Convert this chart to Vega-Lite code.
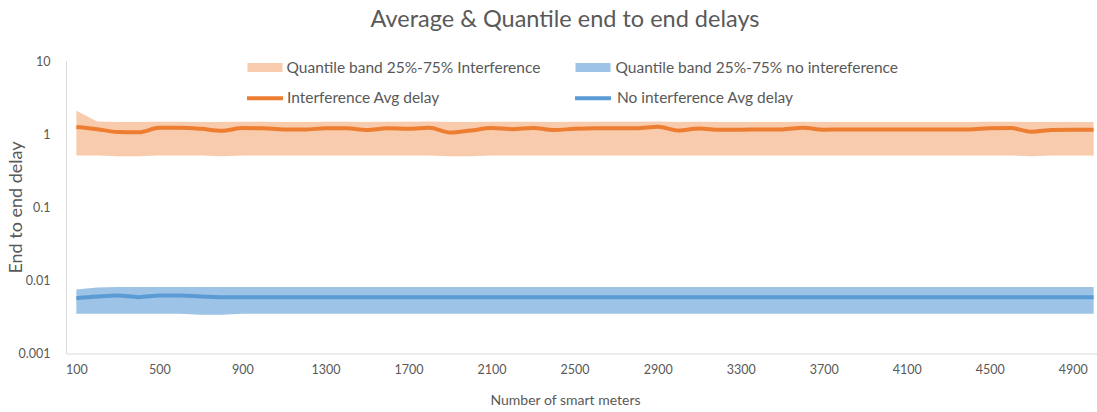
{
  "$schema": "https://vega.github.io/schema/vega-lite/v6.json",
  "width": 1038,
  "height": 292.5,
  "autosize": {"type": "none"},
  "padding": {"left": 66, "top": 61, "right": 0, "bottom": 58},
  "background": "white",
  "title": {
    "text": "Average & Quantile end to end delays",
    "anchor": "middle",
    "dx": -20,
    "dy": 23,
    "offset": 23,
    "baseline": "alphabetic",
    "font": "Lato",
    "fontSize": 23.5,
    "fontWeight": "normal",
    "color": "#595959"
  },
  "data": {
    "values": [
      {"n": 100, "ia": 1.25, "il": 0.51, "ih": 2.08, "na": 0.0057, "nl": 0.0035, "nh": 0.0075},
      {"n": 200, "ia": 1.17, "il": 0.51, "ih": 1.49, "na": 0.0060, "nl": 0.0035, "nh": 0.0080},
      {"n": 300, "ia": 1.07, "il": 0.50, "ih": 1.47, "na": 0.0062, "nl": 0.0035, "nh": 0.0081},
      {"n": 400, "ia": 1.06, "il": 0.50, "ih": 1.46, "na": 0.0059, "nl": 0.0035, "nh": 0.0081},
      {"n": 500, "ia": 1.22, "il": 0.51, "ih": 1.48, "na": 0.0062, "nl": 0.0035, "nh": 0.0081},
      {"n": 600, "ia": 1.22, "il": 0.51, "ih": 1.48, "na": 0.0062, "nl": 0.0035, "nh": 0.0081},
      {"n": 700, "ia": 1.18, "il": 0.51, "ih": 1.47, "na": 0.0060, "nl": 0.0034, "nh": 0.0081},
      {"n": 800, "ia": 1.11, "il": 0.50, "ih": 1.46, "na": 0.0059, "nl": 0.0034, "nh": 0.0081},
      {"n": 900, "ia": 1.21, "il": 0.51, "ih": 1.48, "na": 0.0059, "nl": 0.0035, "nh": 0.0081},
      {"n": 1000, "ia": 1.20, "il": 0.51, "ih": 1.48, "na": 0.0059, "nl": 0.0035, "nh": 0.0081},
      {"n": 1100, "ia": 1.16, "il": 0.51, "ih": 1.47, "na": 0.0059, "nl": 0.0035, "nh": 0.0081},
      {"n": 1200, "ia": 1.16, "il": 0.51, "ih": 1.47, "na": 0.0059, "nl": 0.0035, "nh": 0.0081},
      {"n": 1300, "ia": 1.20, "il": 0.51, "ih": 1.48, "na": 0.0059, "nl": 0.0035, "nh": 0.0081},
      {"n": 1400, "ia": 1.20, "il": 0.51, "ih": 1.48, "na": 0.0059, "nl": 0.0035, "nh": 0.0081},
      {"n": 1500, "ia": 1.14, "il": 0.51, "ih": 1.47, "na": 0.0059, "nl": 0.0035, "nh": 0.0081},
      {"n": 1600, "ia": 1.20, "il": 0.51, "ih": 1.48, "na": 0.0059, "nl": 0.0035, "nh": 0.0081},
      {"n": 1700, "ia": 1.18, "il": 0.51, "ih": 1.48, "na": 0.0059, "nl": 0.0035, "nh": 0.0081},
      {"n": 1800, "ia": 1.22, "il": 0.51, "ih": 1.49, "na": 0.0059, "nl": 0.0035, "nh": 0.0081},
      {"n": 1900, "ia": 1.05, "il": 0.50, "ih": 1.46, "na": 0.0059, "nl": 0.0035, "nh": 0.0081},
      {"n": 2000, "ia": 1.12, "il": 0.50, "ih": 1.47, "na": 0.0059, "nl": 0.0035, "nh": 0.0081},
      {"n": 2100, "ia": 1.21, "il": 0.51, "ih": 1.48, "na": 0.0059, "nl": 0.0035, "nh": 0.0081},
      {"n": 2200, "ia": 1.17, "il": 0.51, "ih": 1.48, "na": 0.0059, "nl": 0.0035, "nh": 0.0081},
      {"n": 2300, "ia": 1.21, "il": 0.51, "ih": 1.48, "na": 0.0059, "nl": 0.0035, "nh": 0.0081},
      {"n": 2400, "ia": 1.14, "il": 0.51, "ih": 1.47, "na": 0.0059, "nl": 0.0035, "nh": 0.0081},
      {"n": 2500, "ia": 1.18, "il": 0.51, "ih": 1.48, "na": 0.0059, "nl": 0.0035, "nh": 0.0081},
      {"n": 2600, "ia": 1.20, "il": 0.51, "ih": 1.48, "na": 0.0059, "nl": 0.0035, "nh": 0.0081},
      {"n": 2700, "ia": 1.20, "il": 0.51, "ih": 1.48, "na": 0.0059, "nl": 0.0035, "nh": 0.0081},
      {"n": 2800, "ia": 1.20, "il": 0.51, "ih": 1.48, "na": 0.0059, "nl": 0.0035, "nh": 0.0081},
      {"n": 2900, "ia": 1.26, "il": 0.51, "ih": 1.49, "na": 0.0059, "nl": 0.0035, "nh": 0.0081},
      {"n": 3000, "ia": 1.12, "il": 0.51, "ih": 1.47, "na": 0.0059, "nl": 0.0035, "nh": 0.0081},
      {"n": 3100, "ia": 1.19, "il": 0.51, "ih": 1.48, "na": 0.0059, "nl": 0.0035, "nh": 0.0081},
      {"n": 3200, "ia": 1.15, "il": 0.51, "ih": 1.47, "na": 0.0059, "nl": 0.0035, "nh": 0.0081},
      {"n": 3300, "ia": 1.15, "il": 0.51, "ih": 1.47, "na": 0.0059, "nl": 0.0035, "nh": 0.0081},
      {"n": 3400, "ia": 1.16, "il": 0.51, "ih": 1.47, "na": 0.0059, "nl": 0.0035, "nh": 0.0081},
      {"n": 3500, "ia": 1.16, "il": 0.51, "ih": 1.47, "na": 0.0059, "nl": 0.0035, "nh": 0.0081},
      {"n": 3600, "ia": 1.22, "il": 0.51, "ih": 1.48, "na": 0.0059, "nl": 0.0035, "nh": 0.0081},
      {"n": 3700, "ia": 1.15, "il": 0.51, "ih": 1.47, "na": 0.0059, "nl": 0.0035, "nh": 0.0081},
      {"n": 3800, "ia": 1.16, "il": 0.51, "ih": 1.47, "na": 0.0059, "nl": 0.0035, "nh": 0.0081},
      {"n": 3900, "ia": 1.16, "il": 0.51, "ih": 1.47, "na": 0.0059, "nl": 0.0035, "nh": 0.0081},
      {"n": 4000, "ia": 1.16, "il": 0.51, "ih": 1.47, "na": 0.0059, "nl": 0.0035, "nh": 0.0081},
      {"n": 4100, "ia": 1.16, "il": 0.51, "ih": 1.47, "na": 0.0059, "nl": 0.0035, "nh": 0.0081},
      {"n": 4200, "ia": 1.16, "il": 0.51, "ih": 1.47, "na": 0.0059, "nl": 0.0035, "nh": 0.0081},
      {"n": 4300, "ia": 1.16, "il": 0.51, "ih": 1.47, "na": 0.0059, "nl": 0.0035, "nh": 0.0081},
      {"n": 4400, "ia": 1.16, "il": 0.51, "ih": 1.47, "na": 0.0059, "nl": 0.0035, "nh": 0.0081},
      {"n": 4500, "ia": 1.20, "il": 0.51, "ih": 1.48, "na": 0.0059, "nl": 0.0035, "nh": 0.0081},
      {"n": 4600, "ia": 1.21, "il": 0.51, "ih": 1.48, "na": 0.0059, "nl": 0.0035, "nh": 0.0081},
      {"n": 4700, "ia": 1.08, "il": 0.50, "ih": 1.46, "na": 0.0059, "nl": 0.0035, "nh": 0.0081},
      {"n": 4800, "ia": 1.14, "il": 0.51, "ih": 1.47, "na": 0.0059, "nl": 0.0035, "nh": 0.0081},
      {"n": 4900, "ia": 1.15, "il": 0.51, "ih": 1.47, "na": 0.0059, "nl": 0.0035, "nh": 0.0081},
      {"n": 5000, "ia": 1.15, "il": 0.51, "ih": 1.47, "na": 0.0059, "nl": 0.0035, "nh": 0.0081}
    ]
  },
  "encoding": {
    "x": {
      "field": "n",
      "type": "ordinal",
      "sort": null,
      "scale": {"type": "point", "padding": 0.5},
      "axis": {
        "values": [100, 500, 900, 1300, 1700, 2100, 2500, 2900, 3300, 3700, 4100, 4500, 4900],
        "labelAngle": 0,
        "labelPadding": 10,
        "title": "Number  of smart meters",
        "titleX": 499,
        "titleY": 51,
        "titleBaseline": "alphabetic",
        "titleAnchor": "middle"
      }
    }
  },
  "layer": [
    {
      "mark": {"type": "area", "opacity": 1},
      "encoding": {
        "y": {
          "field": "il",
          "type": "quantitative",
          "title": "End to end delay",
          "scale": {"type": "log", "domain": [0.001, 10], "nice": false},
          "axis": {
            "values": [0.001, 0.01, 0.1, 1, 10],
            "format": "~g",
            "labelPadding": 16,
            "titleX": -50,
            "titleY": 146,
            "titleAnchor": "middle",
            "titleAngle": -90,
            "titleBaseline": "middle",
            "titleFontSize": 18
          }
        },
        "y2": {"field": "ih"},
        "fill": {
          "datum": "Quantile band 25%-75% Interference",
          "type": "nominal",
          "scale": {"range": ["#F8CBAD"]},
          "legend": {
            "title": null, "orient": "none", "legendX": 181.5, "legendY": -11, "padding": 0,
            "symbolType": "M-1,-0.26H1V0.26H-1Z", "symbolSize": 1225, "symbolStrokeWidth": 0,
            "symbolOpacity": 1, "labelOffset": 4
          }
        }
      }
    },
    {
      "mark": {"type": "area", "opacity": 1},
      "encoding": {
        "y": {"field": "nl", "type": "quantitative", "title": "End to end delay"},
        "y2": {"field": "nh"},
        "fill": {
          "datum": "Quantile band 25%-75% no intereference",
          "type": "nominal",
          "scale": {"range": ["#9DC3E6"]},
          "legend": {
            "title": null, "orient": "none", "legendX": 509.5, "legendY": -11, "padding": 0,
            "symbolType": "M-1,-0.26H1V0.26H-1Z", "symbolSize": 1225, "symbolStrokeWidth": 0,
            "symbolOpacity": 1, "labelOffset": 5
          }
        }
      }
    },
    {
      "mark": {"type": "line", "strokeWidth": 4, "interpolate": "monotone"},
      "encoding": {
        "y": {"field": "ia", "type": "quantitative", "title": "End to end delay"},
        "stroke": {
          "datum": "Interference Avg delay",
          "type": "nominal",
          "scale": {"range": ["#ED7D31"]},
          "legend": {
            "title": null, "orient": "none", "legendX": 179, "legendY": 17.3, "padding": 0,
            "symbolType": "M-1,0H1", "symbolSize": 1296, "symbolStrokeWidth": 4,
            "symbolOpacity": 1, "labelOffset": 2
          }
        }
      }
    },
    {
      "mark": {"type": "line", "strokeWidth": 4, "interpolate": "monotone"},
      "encoding": {
        "y": {"field": "na", "type": "quantitative", "title": "End to end delay"},
        "stroke": {
          "datum": "No interference Avg delay",
          "type": "nominal",
          "scale": {"range": ["#5B9BD5"]},
          "legend": {
            "title": null, "orient": "none", "legendX": 507, "legendY": 17.3, "padding": 0,
            "symbolType": "M-1,0H1", "symbolSize": 1296, "symbolStrokeWidth": 4,
            "symbolOpacity": 1, "labelOffset": 4
          }
        }
      }
    }
  ],
  "resolve": {"scale": {"fill": "independent", "stroke": "independent"}},
  "config": {
    "view": {"stroke": null},
    "legend": {
      "labelFont": "Lato",
      "labelFontSize": 15.5,
      "labelColor": "#595959",
      "labelLimit": 400
    },
    "axis": {
      "domainColor": "#D9D9D9",
      "domainWidth": 1,
      "ticks": false,
      "grid": false,
      "labelColor": "#595959",
      "labelFont": "Lato",
      "labelFontSize": 12.5,
      "titleColor": "#595959",
      "titleFont": "Lato",
      "titleFontSize": 14,
      "titleFontWeight": "normal"
    }
  }
}
